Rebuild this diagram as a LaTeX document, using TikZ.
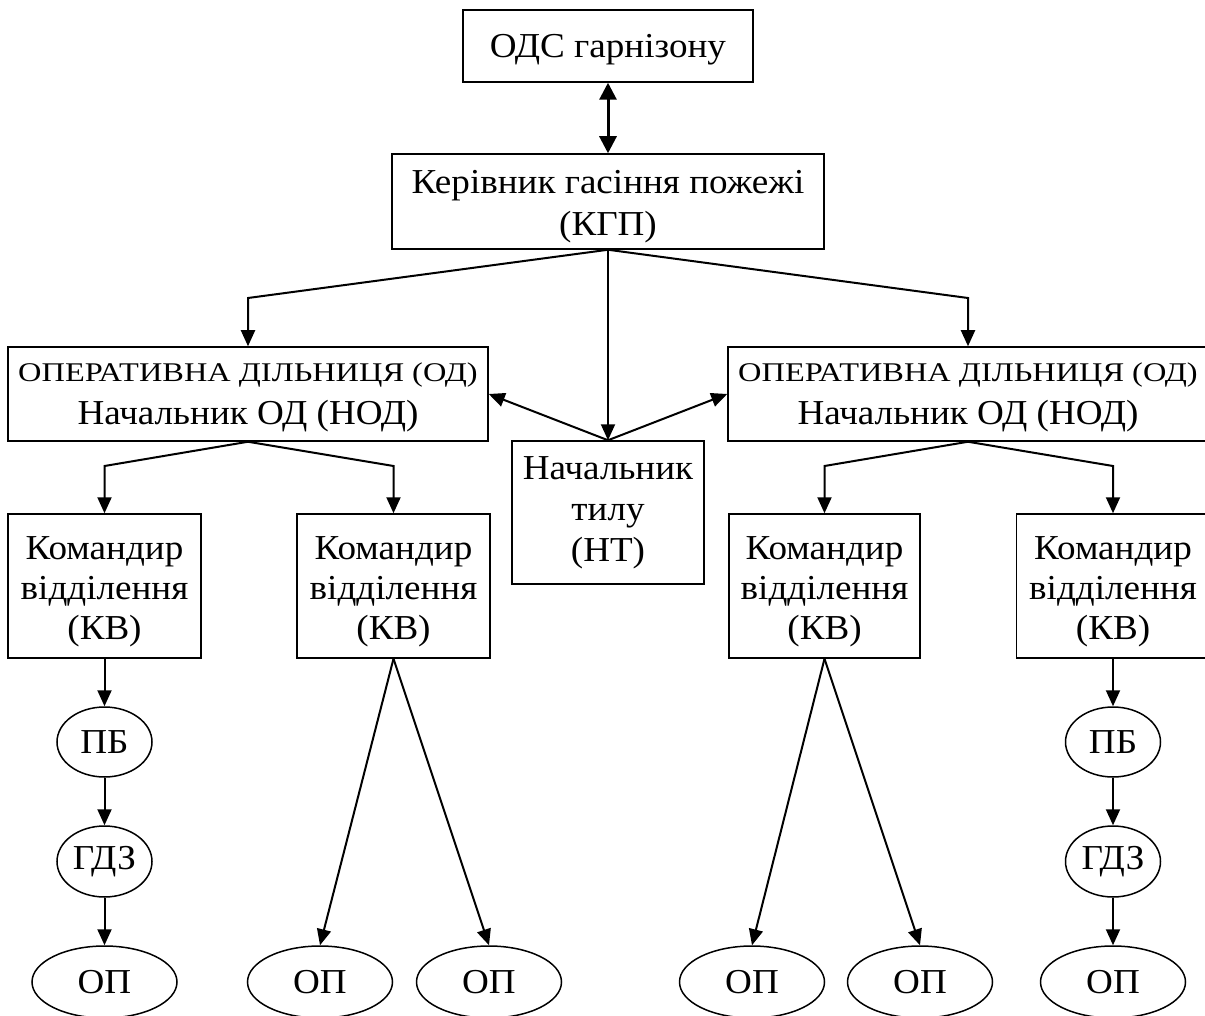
\documentclass[tikz,border=0pt]{standalone}
\usepackage{fontspec}
\setmainfont[FakeStretch=1.06]{Liberation Serif}
\newfontfamily\wideserif[FakeStretch=1.2]{Liberation Serif}
\usetikzlibrary{arrows.meta,shapes.geometric}
\newcommand{\lift}[1]{\rule{0pt}{#1pt}}
\begin{document}
\begin{tikzpicture}[x=1pt,y=-1pt,
  box/.style={draw,line width=1.5pt,rectangle,inner sep=0pt,align=center,
    font=\fontsize{35}{40}\selectfont},
  oval/.style={draw,line width=1.5pt,ellipse,inner sep=0pt,
    font=\fontsize{35}{40}\selectfont},
  arr/.style={line width=2pt,-{Triangle[length=16pt,width=14pt]}},
  darr/.style={line width=3pt,{Triangle[length=17pt,width=17pt]}-{Triangle[length=17pt,width=17pt]}}]
\useasboundingbox (0,0) rectangle (1205,1016);
% boxes
\node[box,minimum width=290pt,minimum height=72pt] (ods) at (608,46) {\lift{30}ОДС гарнізону};
\node[box,minimum width=432pt,minimum height=95pt,font=\fontsize{35}{42}\selectfont] (kgp) at (608,201.5) {\lift{34}Керівник гасіння пожежі\\(КГП)};
\node[box,minimum width=480pt,minimum height=94pt,font=\fontsize{35}{43}\selectfont] (odl) at (248,394)
  {{\wideserif\fontsize{27}{43}\selectfont\lift{25}ОПЕРАТИВНА ДІЛЬНИЦЯ (ОД)}\\Начальник ОД (НОД)};
\node[box,minimum width=480pt,minimum height=94pt,font=\fontsize{35}{43}\selectfont] (odr) at (968,394)
  {{\wideserif\fontsize{27}{43}\selectfont\lift{25}ОПЕРАТИВНА ДІЛЬНИЦЯ (ОД)}\\Начальник ОД (НОД)};
\node[box,minimum width=192pt,minimum height=143pt,font=\fontsize{35}{41}\selectfont] (nt) at (608,512.5) {Начальник\\тилу\\(НТ)};
\node[box,minimum width=193pt,minimum height=144pt] (kv1) at (104.5,586) {\lift{34}Командир\\відділення\\(КВ)};
\node[box,minimum width=193pt,minimum height=144pt] (kv2) at (393.5,586) {\lift{34}Командир\\відділення\\(КВ)};
\node[box,minimum width=191pt,minimum height=144pt] (kv3) at (824.5,586) {\lift{34}Командир\\відділення\\(КВ)};
\node[box,minimum width=193pt,minimum height=144pt] (kv4) at (1113,586) {\lift{34}Командир\\відділення\\(КВ)};
% ellipses
\node[oval,minimum width=95pt,minimum height=70pt] (pb1) at (104.5,742) {ПБ};
\node[oval,minimum width=95pt,minimum height=71pt] (gdz1) at (104.5,861.5) {ГДЗ};
\node[oval,minimum width=145pt,minimum height=72pt] (op1) at (104.5,982) {ОП};
\node[oval,minimum width=145pt,minimum height=72pt] (op2) at (320,982) {ОП};
\node[oval,minimum width=145pt,minimum height=72pt] (op3) at (489,982) {ОП};
\node[oval,minimum width=145pt,minimum height=72pt] (op4) at (752,982) {ОП};
\node[oval,minimum width=145pt,minimum height=72pt] (op5) at (920,982) {ОП};
\node[oval,minimum width=95pt,minimum height=70pt] (pb4) at (1113,742) {ПБ};
\node[oval,minimum width=95pt,minimum height=71pt] (gdz4) at (1113,861.5) {ГДЗ};
\node[oval,minimum width=145pt,minimum height=72pt] (op6) at (1113,982) {ОП};
% bend points
\coordinate (k1) at (248,298);
\coordinate (k2) at (968,298);
\coordinate (l1) at (104.5,466);
\coordinate (l2) at (393.5,466);
\coordinate (r1) at (824.5,466);
\coordinate (r2) at (1113,466);
% connectors
\draw[darr] (ods.south) -- (kgp.north);
\draw[arr] (kgp.south) -- (k1) -- (odl.north);
\draw[arr] (kgp.south) -- (k2) -- (odr.north);
\draw[arr] (kgp.south) -- (nt.north);
\draw[arr] (nt.north) -- (odl.east);
\draw[arr] (nt.north) -- (odr.west);
\draw[arr] (odl.south) -- (l1) -- (kv1.north);
\draw[arr] (odl.south) -- (l2) -- (kv2.north);
\draw[arr] (odr.south) -- (r1) -- (kv3.north);
\draw[arr] (odr.south) -- (r2) -- (kv4.north);
\draw[arr] (kv1.south) -- (pb1.north);
\draw[arr] (pb1.south) -- (gdz1.north);
\draw[arr] (gdz1.south) -- (op1.north);
\draw[arr] (kv2.south) -- (op2.north);
\draw[arr] (kv2.south) -- (op3.north);
\draw[arr] (kv3.south) -- (op4.north);
\draw[arr] (kv3.south) -- (op5.north);
\draw[arr] (kv4.south) -- (pb4.north);
\draw[arr] (pb4.south) -- (gdz4.north);
\draw[arr] (gdz4.south) -- (op6.north);
\end{tikzpicture}
\end{document}
